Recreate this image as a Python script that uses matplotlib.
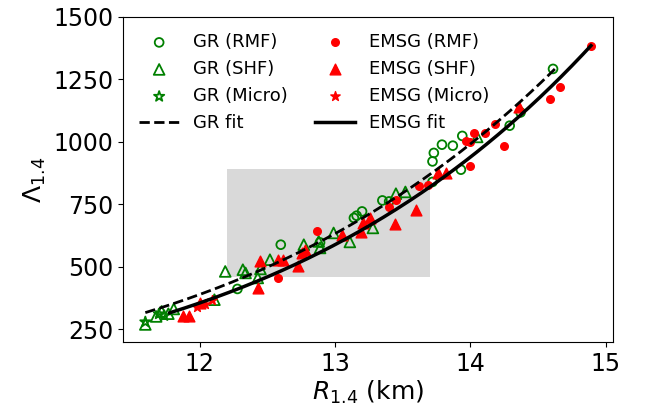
import numpy as np
import matplotlib
matplotlib.use("Agg")
import matplotlib.pyplot as plt

# GR points (open, green)
gr_rmf_r = [12.28, 12.60, 12.89, 13.14, 13.16, 13.20, 13.35, 13.40, 13.72, 13.72,
            13.73, 13.79, 13.87, 13.93, 13.94, 14.29, 14.37, 14.61]
gr_rmf_l = [412, 589, 598, 696, 705, 722, 766, 762, 840, 922,
            956, 989, 985, 889, 1024, 1065, 1118, 1292]

gr_shf_r = [11.60, 11.68, 11.72, 11.77, 11.81, 12.11, 12.19, 12.32, 12.34, 12.43,
            12.45, 12.52, 12.77, 12.88, 12.89, 12.99, 13.11, 13.28, 13.45, 13.52, 14.05]
gr_shf_l = [270, 302, 322, 313, 332, 369, 482, 489, 476, 456,
            492, 529, 589, 602, 576, 636, 600, 656, 793, 800, 1020]

gr_micro_r = [11.60, 11.70, 11.74]
gr_micro_l = [280, 312, 305]

# EMSG points (filled, red)
emsg_rmf_r = [12.58, 12.87, 13.40, 13.45, 13.62, 13.69, 13.97, 14.00, 14.00, 14.03,
              14.11, 14.18, 14.25, 14.59, 14.66, 14.89]
emsg_rmf_l = [456, 642, 740, 766, 822, 827, 1002, 998, 902, 1036,
              1036, 1073, 982, 1172, 1220, 1385]

emsg_shf_r = [11.88, 11.92, 12.00, 12.43, 12.45, 12.58, 12.62, 12.73, 12.76, 12.78,
              13.05, 13.19, 13.21, 13.26, 13.44, 13.60, 13.76, 13.82, 14.36]
emsg_shf_l = [302, 302, 356, 416, 522, 526, 526, 502, 556, 569,
              629, 638, 676, 696, 673, 729, 876, 876, 1140]

emsg_micro_r = [11.98, 12.04, 12.09]
emsg_micro_l = [340, 352, 368]

# power-law fits  Lambda = L0 * (R / R0) ** n, drawn over [r_lo, r_hi]
gr_fit = dict(L0=1295, R0=14.63, n=6.06, r_lo=11.60, r_hi=14.63)
emsg_fit = dict(L0=1385, R0=14.89, n=6.30, r_lo=11.78, r_hi=14.89)


def fit_curve(p):
    rr = np.linspace(p["r_lo"], p["r_hi"], 200)
    return rr, p["L0"] * (rr / p["R0"]) ** p["n"]


fig = plt.figure(figsize=(6.51, 4.12), dpi=100)
ax = fig.add_axes([0.189, 0.170, 0.753, 0.789])

ax.axvspan(12.2, 13.7, ymin=(460 - 200) / 1300, ymax=(890 - 200) / 1300,
           color="#d9d9d9", lw=0, zorder=0)

ax.scatter(gr_rmf_r, gr_rmf_l, marker="o", s=40, facecolors="none",
           edgecolors="green", linewidths=1.3, label="GR (RMF)", zorder=3)
ax.scatter(gr_shf_r, gr_shf_l, marker="^", s=60, facecolors="none",
           edgecolors="green", linewidths=1.3, label="GR (SHF)", zorder=3)
ax.scatter(gr_micro_r, gr_micro_l, marker="*", s=60, facecolors="none",
           edgecolors="green", linewidths=1.3, label="GR (Micro)", zorder=3)
x1, y1 = fit_curve(gr_fit)
ax.plot(x1, y1, "k--", lw=2, label="GR fit", zorder=4)

ax.scatter(emsg_rmf_r, emsg_rmf_l, marker="o", s=30, color="red",
           label="EMSG (RMF)", zorder=3)
ax.scatter(emsg_shf_r, emsg_shf_l, marker="^", s=60, color="red",
           label="EMSG (SHF)", zorder=3)
ax.scatter(emsg_micro_r, emsg_micro_l, marker="*", s=50, color="red",
           label="EMSG (Micro)", zorder=3)
x2, y2 = fit_curve(emsg_fit)
ax.plot(x2, y2, "k-", lw=2.5, label="EMSG fit", zorder=4)

ax.set_ylim(200, 1500)
ax.set_yticks([250, 500, 750, 1000, 1250, 1500])
ax.set_xticks([12, 13, 14, 15])
ax.tick_params(labelsize=17)
ax.set_xlabel("$R_{1.4}$ (km)", fontsize=18, labelpad=2)
ax.set_ylabel(r"$\Lambda_{1.4}$", fontsize=18)
ax.legend(loc="upper left", ncol=2, frameon=False, fontsize=13,
          columnspacing=1.5, handlelength=2.2)

fig.savefig("out.png", dpi=100)
